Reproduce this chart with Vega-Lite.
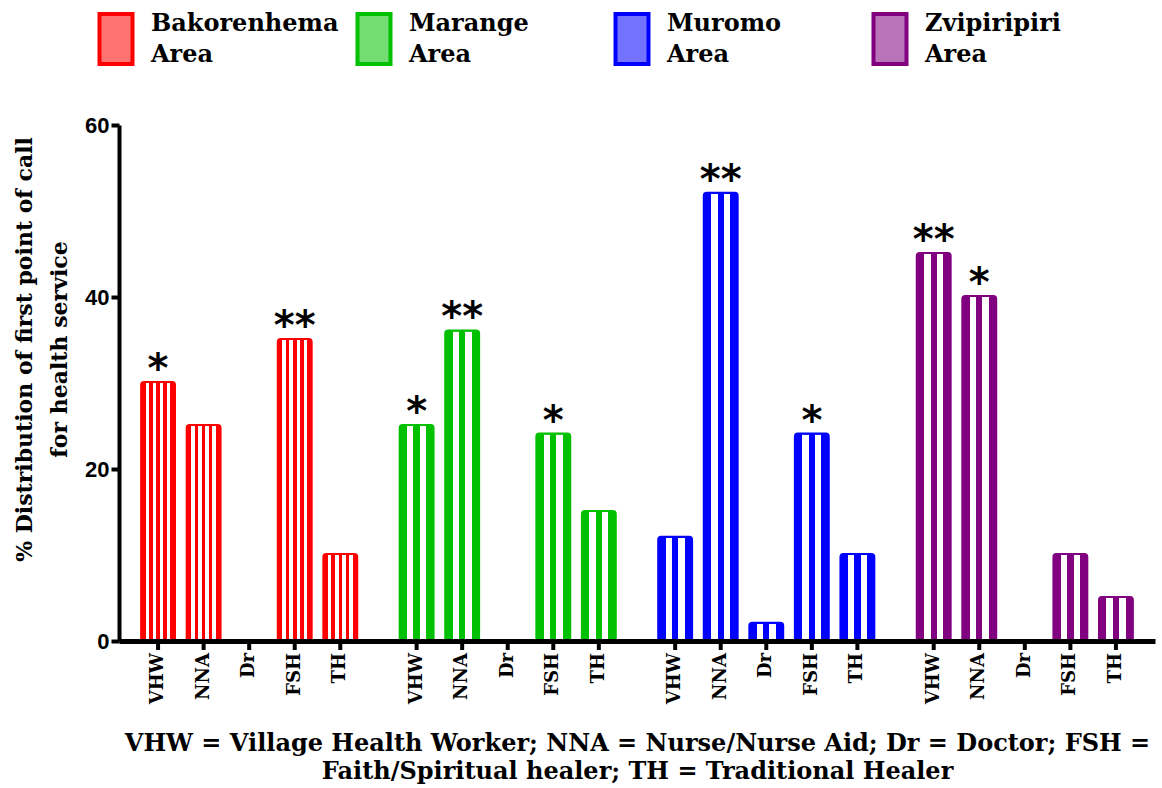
{
  "$schema": "https://vega.github.io/schema/vega-lite/v6.json",
  "width": 1036,
  "height": 516,
  "autosize": "none",
  "padding": {"left": 119, "top": 125, "right": 7, "bottom": 147},
  "background": "white",
  "data": {
    "values": [
      {"area": "Bakorenhema Area", "code": "VHW", "value": 30, "sig": "*"},
      {"area": "Bakorenhema Area", "code": "NNA", "value": 25, "sig": ""},
      {"area": "Bakorenhema Area", "code": "Dr", "value": 0, "sig": ""},
      {"area": "Bakorenhema Area", "code": "FSH", "value": 35, "sig": "**"},
      {"area": "Bakorenhema Area", "code": "TH", "value": 10, "sig": ""},
      {"area": "Marange Area", "code": "VHW", "value": 25, "sig": "*"},
      {"area": "Marange Area", "code": "NNA", "value": 36, "sig": "**"},
      {"area": "Marange Area", "code": "Dr", "value": 0, "sig": ""},
      {"area": "Marange Area", "code": "FSH", "value": 24, "sig": "*"},
      {"area": "Marange Area", "code": "TH", "value": 15, "sig": ""},
      {"area": "Muromo Area", "code": "VHW", "value": 12, "sig": ""},
      {"area": "Muromo Area", "code": "NNA", "value": 52, "sig": "**"},
      {"area": "Muromo Area", "code": "Dr", "value": 2, "sig": ""},
      {"area": "Muromo Area", "code": "FSH", "value": 24, "sig": "*"},
      {"area": "Muromo Area", "code": "TH", "value": 10, "sig": ""},
      {"area": "Zvipiripiri Area", "code": "VHW", "value": 45, "sig": "**"},
      {"area": "Zvipiripiri Area", "code": "NNA", "value": 40, "sig": "*"},
      {"area": "Zvipiripiri Area", "code": "Dr", "value": 0, "sig": ""},
      {"area": "Zvipiripiri Area", "code": "FSH", "value": 10, "sig": ""},
      {"area": "Zvipiripiri Area", "code": "TH", "value": 5, "sig": ""}
    ]
  },
  "encoding": {
    "x": {
      "field": "area",
      "type": "nominal",
      "sort": ["Bakorenhema Area", "Marange Area", "Muromo Area", "Zvipiripiri Area"],
      "scale": {"paddingInner": 0.119, "paddingOuter": 0.063},
      "axis": {
        "labels": false,
        "ticks": false,
        "grid": false,
        "domainWidth": 5,
        "domainColor": "black",
        "zindex": 1,
        "title": ["VHW = Village Health Worker; NNA = Nurse/Nurse Aid; Dr = Doctor; FSH =", "Faith/Spiritual healer; TH = Traditional Healer"],
        "titleFont": "DejaVu Serif",
        "titleFontSize": 24,
        "titleFontWeight": "bold",
        "titleColor": "black",
        "titleLineHeight": 28,
        "titleBaseline": "top",
        "titleY": 90
      }
    },
    "xOffset": {
      "field": "code",
      "type": "nominal",
      "sort": ["VHW", "NNA", "Dr", "FSH", "TH"],
      "scale": {"paddingInner": 0.3, "paddingOuter": 0.15}
    }
  },
  "layer": [
    {
      "mark": {"type": "bar", "strokeWidth": 4, "cornerRadius": 2},
      "encoding": {
        "y": {
          "field": "value",
          "type": "quantitative",
          "scale": {"domain": [0, 60], "nice": false},
          "axis": {
            "values": [0, 20, 40, 60],
            "grid": false,
            "domainWidth": 4,
            "domainColor": "black",
            "tickWidth": 4,
            "tickSize": 8,
            "tickColor": "black",
            "labelFont": "Liberation Sans",
            "labelFontWeight": "bold",
            "labelFontSize": 22,
            "labelColor": "black",
            "labelPadding": 2,
            "title": ["% Distribution of first point of call", "for health service"],
            "titleFont": "DejaVu Serif",
            "titleFontSize": 22,
            "titleFontWeight": "bold",
            "titleColor": "black",
            "titleLineHeight": 35,
            "titleX": -83,
            "titleY": 224
          }
        },
        "fill": {
          "field": "area",
          "type": "nominal",
          "sort": ["Bakorenhema Area", "Marange Area", "Muromo Area", "Zvipiripiri Area"],
          "scale": {"range": ["#ff0000", "#00c000", "#0000ff", "#800080"]},
          "legend": {
            "orient": "none",
            "legendX": -30,
            "legendY": -113,
            "direction": "horizontal",
            "columns": 4,
            "gridAlign": "all",
            "columnPadding": 8,
            "title": null,
            "symbolType": "M-0.66,-1H0.66V1H-0.66Z",
            "symbolSize": 2500,
            "symbolStrokeWidth": 4,
            "labelFont": "DejaVu Serif",
            "labelFontWeight": "bold",
            "labelFontSize": 24,
            "labelColor": "black",
            "labelOffset": 8,
            "labelLimit": 400,
            "labelExpr": "split(datum.label, ' ')",
            "encode": {
              "labels": {"update": {"lineHeight": {"value": 31}, "dy": {"value": -15}}},
              "symbols": {"update": {"fill": {"scale": "fill", "field": "value"}, "fillOpacity": {"value": 0.55}, "stroke": {"scale": "stroke", "field": "value"}, "strokeWidth": {"value": 4}}}
            }
          }
        },
        "stroke": {
          "field": "area",
          "type": "nominal",
          "sort": ["Bakorenhema Area", "Marange Area", "Muromo Area", "Zvipiripiri Area"],
          "scale": {"range": ["#ff0000", "#00c000", "#0000ff", "#800080"]},
          "legend": null
        }
      }
    },
    {
      "transform": [{"filter": "datum.area == 'Bakorenhema Area'"}],
      "mark": {"type": "bar", "strokeWidth": 0, "cornerRadius": 2,
        "fill": {"gradient": "linear", "x1": 0, "y1": 0, "x2": 1, "y2": 0, "stops": [
          {"offset": 0, "color": "rgba(255,255,255,0)"}, {"offset": 0.111, "color": "rgba(255,255,255,0)"},
          {"offset": 0.111, "color": "#ffffff"}, {"offset": 0.222, "color": "#ffffff"},
          {"offset": 0.222, "color": "rgba(255,255,255,0)"}, {"offset": 0.333, "color": "rgba(255,255,255,0)"},
          {"offset": 0.333, "color": "#ffffff"}, {"offset": 0.444, "color": "#ffffff"},
          {"offset": 0.444, "color": "rgba(255,255,255,0)"}, {"offset": 0.556, "color": "rgba(255,255,255,0)"},
          {"offset": 0.556, "color": "#ffffff"}, {"offset": 0.667, "color": "#ffffff"},
          {"offset": 0.667, "color": "rgba(255,255,255,0)"}, {"offset": 0.778, "color": "rgba(255,255,255,0)"},
          {"offset": 0.778, "color": "#ffffff"}, {"offset": 0.889, "color": "#ffffff"},
          {"offset": 0.889, "color": "rgba(255,255,255,0)"}, {"offset": 1, "color": "rgba(255,255,255,0)"}]}},
      "encoding": {
        "y": {"field": "value", "type": "quantitative"}
      }
    },
    {
      "transform": [{"filter": "datum.area != 'Bakorenhema Area'"}],
      "mark": {"type": "bar", "strokeWidth": 0, "cornerRadius": 2,
        "fill": {"gradient": "linear", "x1": 0, "y1": 0, "x2": 1, "y2": 0, "stops": [
          {"offset": 0, "color": "rgba(255,255,255,0)"}, {"offset": 0.2, "color": "rgba(255,255,255,0)"},
          {"offset": 0.2, "color": "#ffffff"}, {"offset": 0.4, "color": "#ffffff"},
          {"offset": 0.4, "color": "rgba(255,255,255,0)"}, {"offset": 0.6, "color": "rgba(255,255,255,0)"},
          {"offset": 0.6, "color": "#ffffff"}, {"offset": 0.8, "color": "#ffffff"},
          {"offset": 0.8, "color": "rgba(255,255,255,0)"}, {"offset": 1, "color": "rgba(255,255,255,0)"}]}},
      "encoding": {
        "y": {"field": "value", "type": "quantitative"}
      }
    },
    {
      "mark": {"type": "rule", "strokeWidth": 4, "color": "black", "y2Offset": 9},
      "encoding": {
        "y": {"datum": 0},
        "y2": {"datum": 0}
      }
    },
    {
      "mark": {"type": "text", "angle": 270, "align": "right", "baseline": "middle", "yOffset": 12, "font": "DejaVu Serif", "fontWeight": "bold", "fontSize": 18, "color": "black"},
      "encoding": {
        "y": {"datum": 0},
        "text": {"field": "code"}
      }
    },
    {
      "transform": [{"filter": "datum.sig != ''"}],
      "mark": {"type": "text", "baseline": "alphabetic", "align": "center", "yOffset": -1, "font": "DejaVu Sans", "fontWeight": "bold", "fontSize": 40, "color": "black"},
      "encoding": {
        "y": {"field": "value", "type": "quantitative"},
        "text": {"field": "sig"}
      }
    }
  ],
  "config": {
    "view": {"stroke": null}
  }
}
